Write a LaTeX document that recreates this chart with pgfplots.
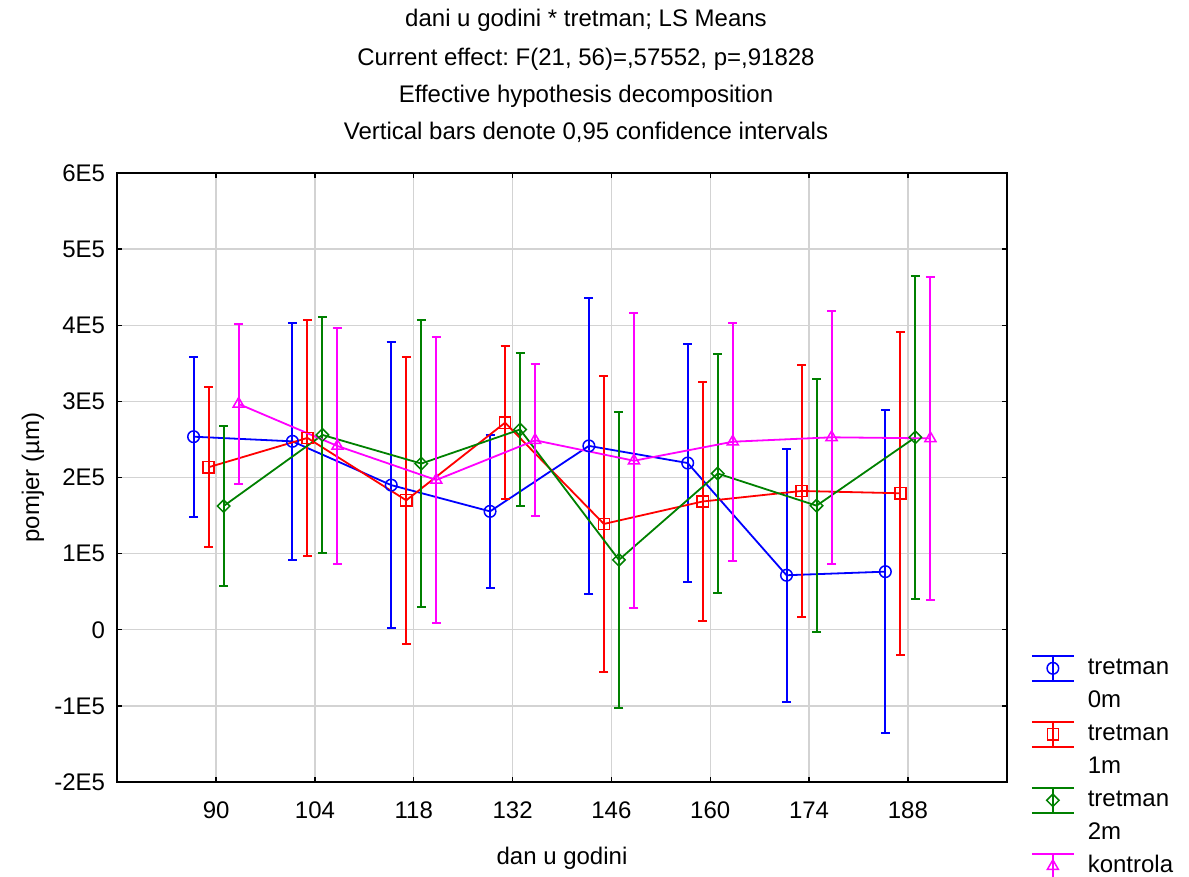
\documentclass[border=0pt]{standalone}
\usepackage{fontspec}
\setmainfont{Liberation Sans}
\usepackage{pgfplots}
\usepackage{pgfplotstable}
\pgfplotsset{compat=1.18}
\usetikzlibrary{calc}
\frenchspacing

\definecolor{sblue}{RGB}{0,0,255}
\definecolor{sred}{RGB}{255,0,0}
\definecolor{sgreen}{RGB}{0,128,0}
\definecolor{smagenta}{RGB}{255,0,255}
\definecolor{gridgray}{RGB}{211,211,211}

% x = category index + group offset, y = LS mean, e = half width of the 0.95 CI
\pgfplotstableread{
x      y      e
-0.228 253600 105000
0.772  247500 155500
1.772  190000 188200
2.772  155500 100100
3.772  241500 194000
4.772  219000 156600
5.772  71600  166100
6.772  76300  212200
}\tretmanA
\pgfplotstableread{
x      y      e
-0.076 213500 105000
0.924  252000 155500
1.924  170000 188200
2.924  272000 100100
3.924  139000 194000
4.924  168500 156600
5.924  182300 166100
6.924  179300 212200
}\tretmanB
\pgfplotstableread{
x      y      e
0.076  162500 105000
1.076  255900 155500
2.076  218300 188200
3.076  263000 100100
4.076  91800  194000
5.076  205200 156600
6.076  163000 166100
7.076  252800 212200
}\tretmanC
\pgfplotstableread{
x      y      e
0.228  296600 105000
1.228  241400 155500
2.228  196700 188200
3.228  248900 100100
4.228  222000 194000
5.228  247000 156600
6.228  252800 166100
7.228  251400 212200
}\kontrola

\pgfplotsset{
    ci/.style={line width=0.9bp, every mark/.append style={line width=0.75bp},
        error bars/.cd, y dir=both, y explicit,
        error bar style={line width=1bp},
        error mark options={rotate=90, mark size=2.25bp, line width=1bp}},
}

\begin{document}
\begin{tikzpicture}
\begin{axis}[
    name=ax,
    scale only axis,
    width=444.7bp, height=304.5bp,
    font=\fontsize{12bp}{14.4bp}\selectfont,
    xmin=-1, xmax=8,
    ymin=-200000, ymax=600000,
    xtick={0,1,2,3,4,5,6,7},
    xticklabels={90,104,118,132,146,160,174,188},
    ytick={-200000,-100000,0,100000,200000,300000,400000,500000,600000},
    yticklabels={-2E5,-1E5,0,1E5,2E5,3E5,4E5,5E5,6E5},
    scaled y ticks=false,
    grid=major,
    major grid style={gridgray, line width=0.7bp},
    tick align=inside,
    major tick length=2.5bp,
    tick style={black, line width=0.7bp},
    axis line style={black, line width=0.85bp},
    xticklabel style={anchor=base, yshift=-18bp},
    yticklabel style={xshift=-2.6bp},
    xlabel={dan u godini},
    ylabel={pomjer (µm)},
    xlabel style={at={(axis description cs:0.5,0)}, anchor=base, yshift=-41bp},
    ylabel style={at={(axis description cs:-0.0948,0.5)}, anchor=center},
    legend image code/.code={
        \draw[#1, mark=none] (0bp,6.25bp) -- (21bp,6.25bp);
        \draw[#1, mark=none] (0bp,-6.25bp) -- (21bp,-6.25bp);
        \draw[#1, mark=none] (10.5bp,-6.25bp) -- (10.5bp,6.25bp);
        \draw[#1] plot coordinates {(10.5bp,0bp)};
    },
    legend cell align=left,
    legend style={at={(1.0273,0.2138)}, anchor=north west, draw=none, fill=none,
        inner sep=0pt, outer sep=0pt, row sep=0pt,
        nodes={inner sep=0pt, text height=11.25bp, text depth=5.25bp},
        /tikz/every odd column/.append style={column sep=6.5bp}},
]
\addplot[sblue, mark=o, mark size=2.9bp, ci]
    table[x=x, y=y, y error=e] {\tretmanA};
\addlegendentry{tretman}
\addlegendimage{empty legend}
\addlegendentry{0m}
\addplot[sred, mark=square, mark size=2.8bp, ci]
    table[x=x, y=y, y error=e] {\tretmanB};
\addlegendentry{tretman}
\addlegendimage{empty legend}
\addlegendentry{1m}
\addplot[sgreen, mark=square, mark options={rotate=45}, mark size=2.2bp, ci]
    table[x=x, y=y, y error=e] {\tretmanC};
\addlegendentry{tretman}
\addlegendimage{empty legend}
\addlegendentry{2m}
\addplot[smagenta, mark=triangle, mark size=3.2bp, ci]
    table[x=x, y=y, y error=e] {\kontrola};
\addlegendentry{kontrola}
\end{axis}
\begin{scope}[font=\fontsize{12bp}{14.4bp}\selectfont]
\node[anchor=base] at ($(ax.south west)+(234.35bp,377.7bp)$) {dani u godini * tretman; LS Means};
\node[anchor=base] at ($(ax.south west)+(234.35bp,358.2bp)$) {Current effect: F(21, 56)=,57552, p=,91828};
\node[anchor=base] at ($(ax.south west)+(234.35bp,339.7bp)$) {Effective hypothesis decomposition};
\node[anchor=base] at ($(ax.south west)+(234.35bp,321.2bp)$) {Vertical bars denote 0,95 confidence intervals};
\end{scope}
\pgfresetboundingbox
\path[use as bounding box] ($(ax.south west)+(-58.65bp,-47.5bp)$) rectangle ($(ax.south west)+(535.85bp,391bp)$);
\end{tikzpicture}
\end{document}
